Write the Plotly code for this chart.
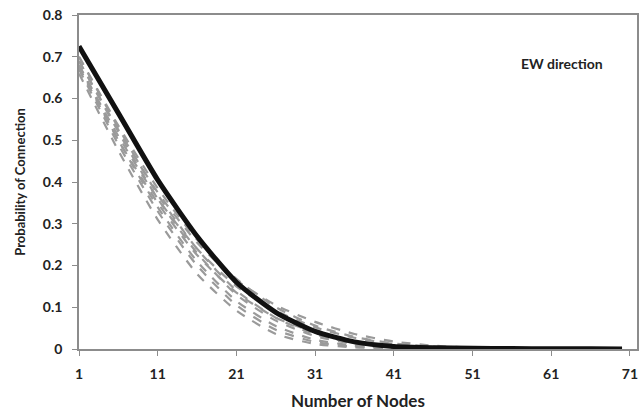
import plotly.graph_objects as go

nodes = [1, 6, 11, 16, 21, 26, 31, 36, 41, 46, 51, 56, 61, 66, 70]

mean_curve = [0.725, 0.565, 0.405, 0.27, 0.16, 0.088, 0.042, 0.017, 0.006, 0.003, 0.002, 0.001, 0.0005, 0.0003, 0.0002]

gray_runs = [
    [0.700, 0.530, 0.370, 0.240, 0.140, 0.075, 0.035, 0.014, 0.005, 0.002, 0.001, 0.0005],
    [0.690, 0.520, 0.360, 0.230, 0.130, 0.068, 0.031, 0.012, 0.004, 0.0015, 0.0005, 0.0002],
    [0.680, 0.500, 0.340, 0.210, 0.115, 0.055, 0.022, 0.008, 0.003, 0.001, 0.0005, 0.0002],
    [0.670, 0.490, 0.330, 0.200, 0.105, 0.046, 0.017, 0.006, 0.002, 0.001, 0.0004, 0.0002],
    [0.660, 0.475, 0.310, 0.180, 0.092, 0.036, 0.012, 0.004, 0.0015, 0.0007, 0.0003, 0.0001],
    [0.690, 0.525, 0.375, 0.255, 0.165, 0.105, 0.065, 0.036, 0.018, 0.008, 0.003, 0.001],
    [0.680, 0.510, 0.360, 0.240, 0.150, 0.092, 0.052, 0.027, 0.012, 0.005, 0.002, 0.0008],
    [0.700, 0.535, 0.385, 0.262, 0.168, 0.100, 0.056, 0.029, 0.013, 0.006, 0.002, 0.0008],
    [0.675, 0.500, 0.350, 0.225, 0.135, 0.075, 0.040, 0.018, 0.007, 0.003, 0.001, 0.0004],
]

x_ticks = [1, 11, 21, 31, 41, 51, 61, 71]
y_ticks = [0, 0.1, 0.2, 0.3, 0.4, 0.5, 0.6, 0.7, 0.8]
y_labels = ["0", "0.1", "0.2", "0.3", "0.4", "0.5", "0.6", "0.7", "0.8"]

fig = go.Figure()
for run in gray_runs:
    fig.add_trace(go.Scatter(
        x=nodes[:len(run)], y=run, mode="lines",
        line=dict(color="#9a9a9a", width=2.2, dash="dash", shape="spline", smoothing=0.6),
        showlegend=False, hoverinfo="skip"))

fig.add_trace(go.Scatter(
    x=nodes, y=mean_curve, mode="lines",
    line=dict(color="#111111", width=5, shape="spline", smoothing=0.6),
    showlegend=False))

tick_font = dict(family="Lato, sans-serif", size=14, color="#222", weight="bold")

fig.update_layout(
    width=641, height=411,
    margin=dict(l=79, r=4, t=15, b=62),
    paper_bgcolor="white", plot_bgcolor="white",
    xaxis=dict(
        range=[1, 71.9], tickvals=x_ticks, ticktext=[str(v) for v in x_ticks],
        showgrid=False, zeroline=False, automargin=False,
        showline=True, linecolor="#8c8c8c", linewidth=1.5, mirror=True,
        ticks="outside", ticklen=5, tickcolor="#8c8c8c",
        ticklabelstandoff=6,
        tickfont=tick_font,
        title=dict(text="<b>Number of Nodes</b>", font=dict(family="Lato, sans-serif", size=17, color="#222"), standoff=22),
    ),
    yaxis=dict(
        range=[0, 0.8], tickvals=y_ticks, ticktext=y_labels,
        showgrid=False, zeroline=False, automargin=False,
        showline=True, linecolor="#8c8c8c", linewidth=1.5, mirror=True,
        ticks="outside", ticklen=5, tickcolor="#8c8c8c",
        ticklabelstandoff=7,
        tickfont=tick_font,
        title=dict(text="<b>Probability of Connection</b>", font=dict(family="Lato, sans-serif", size=13, color="#222"), standoff=14),
    ),
    annotations=[dict(
        x=0.866, y=0.855, xref="paper", yref="paper", xanchor="center", yanchor="middle",
        text="<b>EW direction</b>", showarrow=False,
        font=dict(family="Lato, sans-serif", size=14, color="#222"))],
)

fig.write_html("out.html")
